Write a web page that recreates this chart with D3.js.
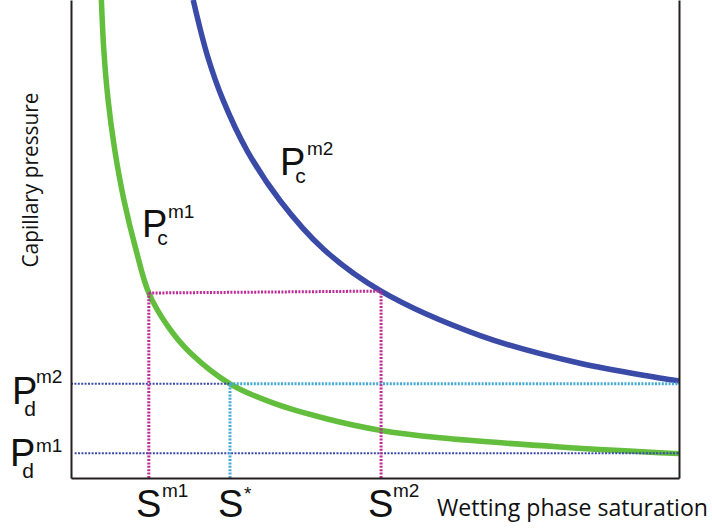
<!DOCTYPE html>
<html>
<head>
<meta charset="utf-8">
<script src="https://cdn.jsdelivr.net/npm/d3@7"></script>
<style>
  html, body { margin: 0; padding: 0; background: #fff; }
  svg { display: block; }
</style>
</head>
<body>
<svg id="chart" width="712" height="531"></svg>
<script>
// Kapillardruck-Kurven zweier Materialien (m1, m2)

// Sättigung (0..1) und Druck (beliebige Einheit 0..10)
const satM1 = [0.050, 0.054, 0.061, 0.072, 0.087, 0.107, 0.128, 0.160, 0.196, 0.2615, 0.332, 0.420, 0.508, 0.607, 0.804, 1.000];
const pcM1  = [10.0, 8.95, 7.91, 6.86, 5.82, 4.77, 3.87, 3.16, 2.62, 1.97, 1.57, 1.24, 1.00, 0.84, 0.65, 0.51];

const satM2 = [0.201, 0.224, 0.250, 0.290, 0.344, 0.415, 0.510, 0.673, 0.837, 1.000];
const pcM2  = [10.0, 8.85, 7.91, 6.84, 5.80, 4.79, 3.91, 2.98, 2.40, 2.03];

// Eintrittsdrücke und markierte Sättigungen
const pdM1 = 0.52;
const pdM2 = 1.97;
const pcLevel = 3.87;       // gemeinsamer Druck für S^m1 / S^m2
const sM1 = 0.128;
const sM2 = 0.510;
const sStar = 0.2615;

const svg = d3.select('#chart');
const margin = { left: 71, right: 33, top: 0, bottom: 53 };
const W = 712, H = 531;

const x = d3.scaleLinear().domain([0, 1]).range([margin.left, W - margin.right]);
const y = d3.scaleLinear().domain([0, 10]).range([H - margin.bottom, margin.top]);

const AXIS = '#231f20';
const GREEN = '#62be3c';
const BLUE = '#3a4aa7';
const MAGENTA = '#c02a98';
const CYAN = '#45abd6';
const DARKBLUE = '#3b4bab';

// ── Kurven ──────────────────────────────────────────────────
const line = d3.line()
  .x(d => x(d[0])).y(d => y(d[1]))
  .curve(d3.curveCatmullRom.alpha(0.5));

svg.append('path')
  .datum(d3.zip(satM1, pcM1))
  .attr('d', line)
  .attr('fill', 'none')
  .attr('stroke', GREEN)
  .attr('stroke-width', 5.5);

svg.append('path')
  .datum(d3.zip(satM2, pcM2))
  .attr('d', line)
  .attr('fill', 'none')
  .attr('stroke', BLUE)
  .attr('stroke-width', 5.5);

// ── Hilfslinien ─────────────────────────────────────────────
const guides = svg.append('g').attr('class', 'guides').attr('fill', 'none');

function guide(x1, y1, x2, y2, color, w) {
  guides.append('line')
    .attr('x1', x(x1)).attr('y1', y(y1))
    .attr('x2', x(x2)).attr('y2', y(y2))
    .attr('stroke', color)
    .attr('stroke-width', w)
    .attr('stroke-dasharray', '2,1.4');
}

guide(0.006, pdM1, 1, pdM1, DARKBLUE, 2);
guide(0, pdM2, sStar, pdM2, DARKBLUE, 2);
guide(sStar, pdM2, 1, pdM2, CYAN, 3);
guide(sStar, 0, sStar, pdM2, CYAN, 3);
guide(sM1, pcLevel, sM2, pcLevel + 0.04, MAGENTA, 3);
guide(sM1, 0, sM1, pcLevel, MAGENTA, 3);
guide(sM2, 0, sM2, pcLevel + 0.04, MAGENTA, 3);

// ── Achsen (ohne Ticks) ─────────────────────────────────────
const axes = svg.append('g').attr('color', AXIS);
axes.append('g')
  .attr('transform', `translate(0,${y(0)})`)
  .call(d3.axisBottom(x).tickValues([]).tickSizeOuter(0));
axes.append('g')
  .attr('transform', `translate(${x(0)},0)`)
  .call(d3.axisLeft(y).tickValues([]).tickSizeOuter(0));
axes.append('g')
  .attr('transform', `translate(${x(1)},0)`)
  .call(d3.axisRight(y).tickValues([]).tickSizeOuter(0));
axes.selectAll('.domain').attr('stroke-width', 2);

// ── Beschriftungen ──────────────────────────────────────────
const SYM = 'Liberation Sans, Arial, sans-serif';
const labels = svg.append('g').attr('font-family', SYM).attr('fill', '#111');
const P_ADV = 25; // Vorschub von "P"/"S" bei 38px

// ein Textelement: Hauptbuchstabe, Index, Exponent
function symbol(px, py, main, sub, sup, subOff, supOff) {
  const t = labels.append('text').attr('x', px).attr('y', py).attr('font-size', 38);
  t.append('tspan').text(main);
  let dyNow = 0;
  if (sub) {
    t.append('tspan')
      .attr('dx', subOff[0] - P_ADV).attr('dy', subOff[1])
      .attr('font-size', 21).text(sub);
    dyNow = subOff[1];
  }
  if (sup) {
    t.append('tspan')
      .attr('x', px + supOff[0]).attr('dy', supOff[1] - dyNow)
      .attr('font-size', 19).text(sup);
  }
}

symbol(12, 404, 'P', 'd', 'm2', [12, 12], [24, -21]);
symbol(10, 466, 'P', 'd', 'm1', [12, 12], [26, -14]);
symbol(142, 237, 'P', 'c', 'm1', [15, 8], [26, -19]);
symbol(280, 175, 'P', 'c', 'm2', [15, 8], [27, -20]);
symbol(136, 517, 'S', null, 'm1', null, [26, -20]);
symbol(218, 517, 'S', null, '*', null, [26, -17]);
symbol(368, 517, 'S', null, 'm2', null, [25, -20]);

const AX_FONT = '"Open Sans", "Noto Sans", sans-serif';
svg.append('text')
  .attr('x', 437).attr('y', 516)
  .attr('font-family', AX_FONT)
  .attr('font-size', 23)
  .attr('textLength', 271)
  .attr('lengthAdjust', 'spacingAndGlyphs')
  .attr('fill', '#111')
  .text('Wetting phase saturation');

svg.append('text')
  .attr('transform', 'translate(38,180) rotate(-90)')
  .attr('text-anchor', 'middle')
  .attr('font-family', AX_FONT)
  .attr('font-size', 21)
  .attr('textLength', 175)
  .attr('lengthAdjust', 'spacingAndGlyphs')
  .attr('fill', '#111')
  .text('Capillary pressure');
</script>
</body>
</html>
